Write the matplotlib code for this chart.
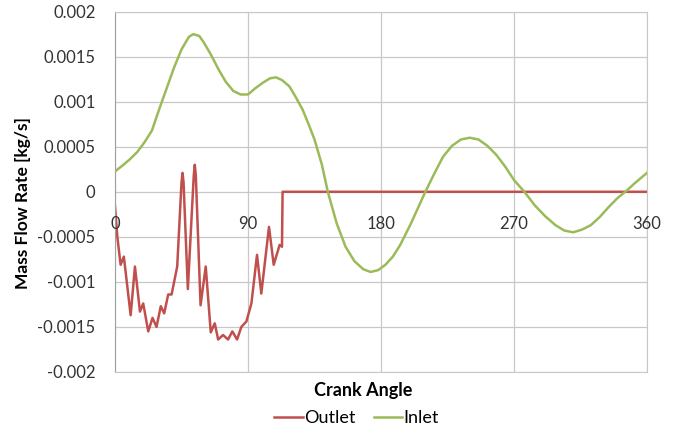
import matplotlib.pyplot as plt

plt.rcParams['font.family'] = ['Lato', 'DejaVu Sans']

# Inlet mass flow rate
inlet_angle = [0, 5, 10, 15, 20, 25, 30, 35, 40, 45, 50, 53, 57, 60, 65, 70, 75, 80, 85, 90,
               95, 100, 105, 109, 113, 118, 122, 127, 131, 135, 140, 144, 150, 156, 162, 168,
               173, 178, 183, 188, 193, 200, 205, 210, 216, 222, 228, 234, 240, 246, 252, 258,
               264, 270, 277, 284, 291, 298, 304, 310, 316, 322, 328, 334, 340, 346, 352, 360]
inlet_flow = [0.000226, 0.00029, 0.00036, 0.00044, 0.00055, 0.00068, 0.00092, 0.00115, 0.00138,
              0.00158, 0.00172, 0.00175, 0.00173, 0.00166, 0.00152, 0.00136, 0.00122, 0.00112,
              0.00108, 0.00108, 0.00115, 0.00121, 0.00126, 0.00127, 0.00124, 0.00117, 0.00106,
              0.00091, 0.00075, 0.00058, 0.00030, 0.0, -0.00035, -0.00061, -0.00077, -0.00086,
              -0.00089, -0.00087, -0.00081, -0.00072, -0.00059, -0.00036, -0.00018, 0.0,
              0.00020, 0.00039, 0.00051, 0.00058, 0.00060, 0.00058, 0.00051, 0.00041, 0.00028,
              0.00013, 0.0, -0.00015, -0.00027, -0.00037, -0.00043, -0.00045, -0.00042,
              -0.00037, -0.00028, -0.00017, -0.00007, 0.00001, 0.00010, 0.00021]

# Outlet mass flow rate
outlet_angle = [0, 1.6, 3.8, 6, 10.6, 13.5, 16.9, 19.1, 22.5, 25.4, 28.1, 31, 33.3, 36, 38.3,
                42.1, 45.0, 45.7, 46.4, 49.3, 53.3, 54, 54.7, 57.9, 61.4, 64.8, 67.5, 69.8,
                73.1, 76.5, 79.4, 82.6, 85.5, 88.9, 92.3, 96.1, 99, 104.2, 107.4, 111.4, 113,
                113.4, 360]
outlet_flow = [-0.00016, -0.0005, -0.00081, -0.00072, -0.00137, -0.00083, -0.00133, -0.00124,
               -0.00155, -0.0014, -0.0015, -0.00127, -0.00135, -0.00114, -0.00114, -0.00083,
               0.00010, 0.00021, 0.00010, -0.00108, 0.00018, 0.0003, 0.00018, -0.00126,
               -0.00083, -0.00156, -0.00146, -0.00164, -0.00159, -0.00164, -0.00155, -0.00164,
               -0.0015, -0.00144, -0.00124, -0.0007, -0.00113, -0.00039, -0.00081, -0.00059,
               -0.00061, 0.0, 0.0]

x_ticks = [0, 90, 180, 270, 360]
y_ticks = [-0.002, -0.0015, -0.001, -0.0005, 0, 0.0005, 0.001, 0.0015, 0.002]
y_labels = ['-0.002', '-0.0015', '-0.001', '-0.0005', '0', '0.0005', '0.001', '0.0015', '0.002']

fig = plt.figure(figsize=(6.91, 4.30), dpi=100)
ax = fig.add_axes([0.1664, 0.135, 0.77, 0.838])

ax.plot(outlet_angle, outlet_flow, color='#C0504D', linewidth=1.8, label='Outlet')
ax.plot(inlet_angle, inlet_flow, color='#9BBB59', linewidth=1.8, label='Inlet')

ax.set_xlim(0, 360)
ax.set_ylim(-0.002, 0.002)
ax.set_xticks(x_ticks)
ax.set_xticklabels([])
ax.set_yticks(y_ticks)
ax.set_yticklabels(y_labels, fontsize=12, color='#333333')
ax.tick_params(axis='x', length=0)
ax.tick_params(axis='y', length=0, pad=14)
ax.grid(True, color='#c8c8c8', linewidth=0.9)
ax.set_axisbelow(True)
for side in ['top', 'bottom', 'right']:
    ax.spines[side].set_color('#c8c8c8')
ax.spines['left'].set_color('#a0a0a0')

# x tick labels sit just below the zero line
for a in x_ticks:
    ax.text(a, -0.00036, str(a), ha='center', va='center', fontsize=12, color='#333333')

fig.text(0.034, 0.528, 'Mass Flow Rate [kg/s]', rotation=90, ha='center', va='center',
         fontsize=12.5, fontweight='bold')
fig.text(0.525, 0.093, 'Crank Angle', ha='center', va='center', fontsize=13, fontweight='bold')

handles, labels = ax.get_legend_handles_labels()
fig.legend(handles, labels, loc='center', bbox_to_anchor=(0.516, 0.028), ncol=2, frameon=False,
           fontsize=13, handlelength=1.6, handletextpad=0.05, columnspacing=1.0,
           borderaxespad=0, borderpad=0)

fig.savefig('out.png', dpi=100)
